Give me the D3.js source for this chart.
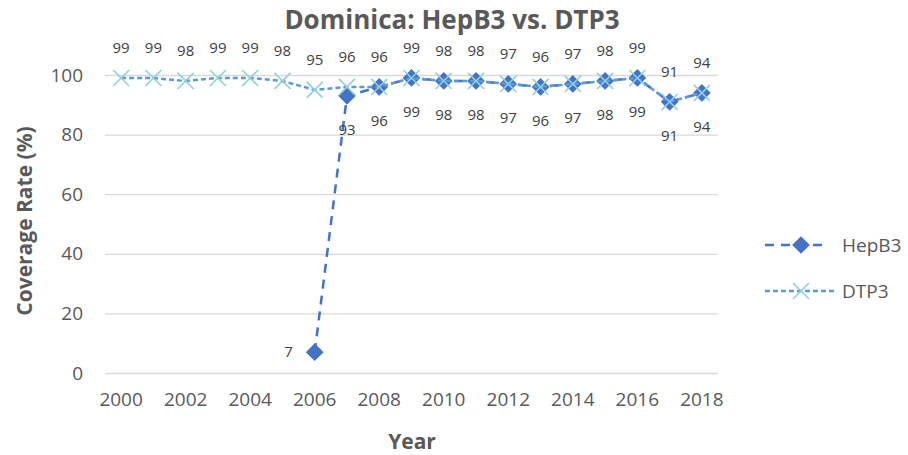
<!DOCTYPE html>
<html>
<head>
<meta charset="utf-8">
<script src="https://cdn.jsdelivr.net/npm/d3@7"></script>
<style>
  body { margin: 0; background: #fff; }
  text { font-family: "Open Sans", "Noto Sans", sans-serif; }
</style>
</head>
<body>
<div id="chart"></div>
<script>
var years = [2000, 2001, 2002, 2003, 2004, 2005, 2006, 2007, 2008, 2009,
             2010, 2011, 2012, 2013, 2014, 2015, 2016, 2017, 2018];
// HepB3 only reported from 2006 on
var hepb3 = [null, null, null, null, null, null, 7, 93, 96, 99,
             98, 98, 97, 96, 97, 98, 99, 91, 94];
var dtp3 = [99, 99, 98, 99, 99, 98, 95, 96, 96, 99,
            98, 98, 97, 96, 97, 98, 99, 91, 94];
var yTicks = [0, 20, 40, 60, 80, 100];
var seriesNames = ["HepB3", "DTP3"];

var width = 908, height = 455;
var svg = d3.select("#chart").append("svg")
    .attr("width", width).attr("height", height);

var x = d3.scaleBand().domain(years).range([105, 718]);
var y = d3.scaleLinear().domain([0, 100]).range([373, 75]);
var cx = function (yr) { return x(yr) + x.bandwidth() / 2; };

// grid + y axis
var yAxis = svg.append("g")
    .attr("transform", "translate(105,0)")
    .call(d3.axisLeft(y).tickValues(yTicks).tickSize(-613).tickPadding(22));
yAxis.select(".domain").remove();
yAxis.selectAll("line").attr("stroke", "#d9d9d9").attr("stroke-width", 1.3);
yAxis.selectAll("text").attr("fill", "#595959").style("font-size", "19px");

// x axis
var xAxis = svg.append("g")
    .attr("transform", "translate(0,373)")
    .call(d3.axisBottom(x).tickSize(0).tickPadding(20)
        .tickFormat(function (d) { return d % 2 === 0 ? d : ""; }));
xAxis.select(".domain").remove();
xAxis.selectAll("text").attr("fill", "#595959").style("font-size", "19px");

var hepData = years.map(function (yr, i) { return { year: yr, v: hepb3[i] }; })
    .filter(function (d) { return d.v !== null; });
var dtpData = years.map(function (yr, i) { return { year: yr, v: dtp3[i] }; });

var line = d3.line()
    .x(function (d) { return cx(d.year); })
    .y(function (d) { return y(d.v); });

var hepColor = "#4472c4", dtpLine = "#5b9bd5", dtpMark = "#8fd0e0";
var diamond = d3.symbol().type(d3.symbolDiamond2).size(200);
var cross = d3.symbol().type(d3.symbolX).size(170);

// HepB3 series
svg.append("path").datum(hepData)
    .attr("d", line).attr("fill", "none")
    .attr("stroke", hepColor).attr("stroke-width", 2.5)
    .attr("stroke-dasharray", "9,7");
svg.selectAll(".hepMark").data(hepData).enter().append("path")
    .attr("class", "hepMark")
    .attr("d", diamond)
    .attr("transform", function (d) { return "translate(" + cx(d.year) + "," + y(d.v) + ")"; })
    .attr("fill", hepColor);

// DTP3 series
svg.append("path").datum(dtpData)
    .attr("d", line).attr("fill", "none")
    .attr("stroke", dtpLine).attr("stroke-width", 2.5)
    .attr("stroke-dasharray", "5,3");
svg.selectAll(".dtpMark").data(dtpData).enter().append("path")
    .attr("class", "dtpMark")
    .attr("d", cross)
    .attr("transform", function (d) { return "translate(" + cx(d.year) + "," + y(d.v) + ")"; })
    .attr("fill", "none").attr("stroke", dtpMark).attr("stroke-width", 1.6);

// data labels
svg.selectAll(".dtpLab").data(dtpData).enter().append("text")
    .attr("class", "dtpLab")
    .attr("x", function (d) { return cx(d.year); })
    .attr("y", function (d) { return y(d.v) - 30; })
    .attr("dy", "0.35em").attr("text-anchor", "middle")
    .attr("fill", "#404040").style("font-size", "15px")
    .text(function (d) { return d.v; });

svg.selectAll(".hepLab").data(hepData).enter().append("text")
    .attr("class", "hepLab")
    .attr("x", function (d) { return d.v < 50 ? cx(d.year) - 22 : cx(d.year); })
    .attr("y", function (d) { return d.v < 50 ? y(d.v) : y(d.v) + 34; })
    .attr("dy", "0.35em")
    .attr("text-anchor", function (d) { return d.v < 50 ? "end" : "middle"; })
    .attr("fill", "#404040").style("font-size", "15px")
    .text(function (d) { return d.v; });

// titles
svg.append("text").attr("x", 452).attr("y", 29)
    .attr("text-anchor", "middle").attr("fill", "#595959")
    .style("font-size", "26px").style("font-weight", "bold")
    .text("Dominica: HepB3 vs. DTP3");

svg.append("text").attr("x", 412).attr("y", 449)
    .attr("text-anchor", "middle").attr("fill", "#595959")
    .style("font-size", "21px").style("font-weight", "bold")
    .text("Year");

svg.append("text")
    .attr("transform", "translate(32,221) rotate(-90)")
    .attr("text-anchor", "middle").attr("fill", "#595959")
    .style("font-size", "21px").style("font-weight", "bold")
    .text("Coverage Rate (%)");

// legend
var legend = svg.append("g");
var legY = [245, 291];
legend.append("line").attr("x1", 765).attr("x2", 829)
    .attr("y1", legY[0]).attr("y2", legY[0])
    .attr("stroke", hepColor).attr("stroke-width", 2.5).attr("stroke-dasharray", "9,7");
legend.append("path").attr("d", diamond)
    .attr("transform", "translate(801," + legY[0] + ")").attr("fill", hepColor);
legend.append("line").attr("x1", 765).attr("x2", 834)
    .attr("y1", legY[1]).attr("y2", legY[1])
    .attr("stroke", dtpLine).attr("stroke-width", 2.5).attr("stroke-dasharray", "5,3");
legend.append("path").attr("d", cross)
    .attr("transform", "translate(801," + legY[1] + ")")
    .attr("fill", "none").attr("stroke", dtpMark).attr("stroke-width", 1.6);
legend.selectAll(".legText").data(seriesNames).enter().append("text")
    .attr("x", 842).attr("y", function (d, i) { return legY[i]; })
    .attr("dy", "0.35em").attr("fill", "#595959").style("font-size", "19px")
    .text(function (d) { return d; });
</script>
</body>
</html>
